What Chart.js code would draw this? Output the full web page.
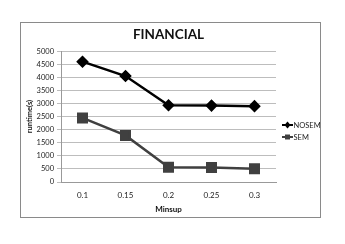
<!DOCTYPE html>
<html><head><meta charset="utf-8">
<script src="https://cdn.jsdelivr.net/npm/chart.js@4"></script>
<style>html,body{margin:0;padding:0;background:#fff}#wrap{position:relative;width:345px;height:244px}</style>
</head><body><div id="wrap"><canvas id="c" width="345" height="244"></canvas></div>
<script>
const categories = ["0.1", "0.15", "0.2", "0.25", "0.3"];
const nosem = [4600, 4050, 2930, 2920, 2900];
const sem = [2450, 1780, 560, 550, 510];
const seriesNames = ["NOSEM", "SEM"];
const FONT = "Lato, 'Liberation Sans', sans-serif";

const frame = {
  id: 'frame',
  beforeDraw(chart) {
    const ctx = chart.ctx;
    ctx.save();
    ctx.fillStyle = '#fff';
    ctx.fillRect(0, 0, chart.width, chart.height);
    ctx.strokeStyle = '#8a8a8a';
    ctx.lineWidth = 1;
    ctx.strokeRect(20.5, 22.5, 300, 195);
    ctx.restore();
  }
};
const legendPlugin = {
  id: 'customLegend',
  afterDraw(chart) {
    const ctx = chart.ctx;
    ctx.save();
    chart.data.datasets.forEach((ds, i) => {
      const y = 125 + i * 12;
      const x0 = 282;
      ctx.strokeStyle = ds.borderColor;
      ctx.lineWidth = 2;
      ctx.beginPath(); ctx.moveTo(x0, y); ctx.lineTo(x0 + 11, y); ctx.stroke();
      ctx.fillStyle = ds.pointBackgroundColor;
      ctx.beginPath();
      if (ds.pointStyle === 'rectRot') {
        ctx.moveTo(x0 + 5.5, y - 3.5); ctx.lineTo(x0 + 8.5, y); ctx.lineTo(x0 + 5.5, y + 3.5); ctx.lineTo(x0 + 2.5, y);
        ctx.closePath();
      } else {
        ctx.rect(x0 + 3, y - 2.5, 5, 5);
      }
      ctx.fill();
      ctx.fillStyle = '#222';
      ctx.font = "7.5px " + FONT;
      ctx.textBaseline = 'middle';
      ctx.fillText(ds.label, x0 + 11.5, y + 0.5);
    });
    ctx.restore();
  }
};

new Chart(document.getElementById('c'), {
  type: 'line',
  data: {
    labels: categories,
    datasets: [
      { label: seriesNames[0], data: nosem, borderColor: '#000', backgroundColor: '#000',
        pointBackgroundColor: '#000', pointBorderColor: '#000', borderWidth: 2.5,
        pointStyle: 'rectRot', pointRadius: 4.5, tension: 0 },
      { label: seriesNames[1], data: sem, borderColor: '#404040', backgroundColor: '#404040',
        pointBackgroundColor: '#404040', pointBorderColor: '#404040', borderWidth: 2.5,
        pointStyle: 'rect', pointRadius: 6, tension: 0 }
    ]
  },
  options: {
    responsive: false,
    animation: false,
    layout: { padding: { left: 24, right: 69, top: 24, bottom: 30 } },
    plugins: {
      legend: { display: false },
      tooltip: { enabled: false },
      title: { display: true, text: 'FINANCIAL', color: '#111', fullSize: false,
        font: { family: FONT, size: 13.5, weight: 'bold' }, padding: { top: 3, bottom: 8 } }
    },
    scales: {
      x: {
        offset: true,
        grid: { display: false, drawTicks: false, color: '#999' },
        border: { color: '#999' },
        ticks: { color: '#222', font: { family: FONT, size: 8 }, padding: 9 },
        title: { display: true, text: 'Minsup', color: '#111', font: { family: FONT, size: 8, weight: 'bold' }, padding: { top: 0, bottom: 0 } },
        afterFit(s) { s.height = 32; }
      },
      y: {
        min: 0, max: 5000,
        ticks: { stepSize: 500, autoSkip: false, color: '#222', font: { family: FONT, size: 7.5 }, padding: 3,
          callback: (v) => String(v) },
        grid: { color: '#bdbdbd', lineWidth: 1, tickLength: 4 },
        border: { color: '#999' },
        title: { display: true, text: 'runtime(s)', color: '#111', font: { family: FONT, size: 7.5, weight: 'bold' }, padding: { top: 1, bottom: 0 } },
        afterFit(s) { s.width = 37; }
      }
    }
  },
  plugins: [frame, legendPlugin]
});
</script></body></html>
